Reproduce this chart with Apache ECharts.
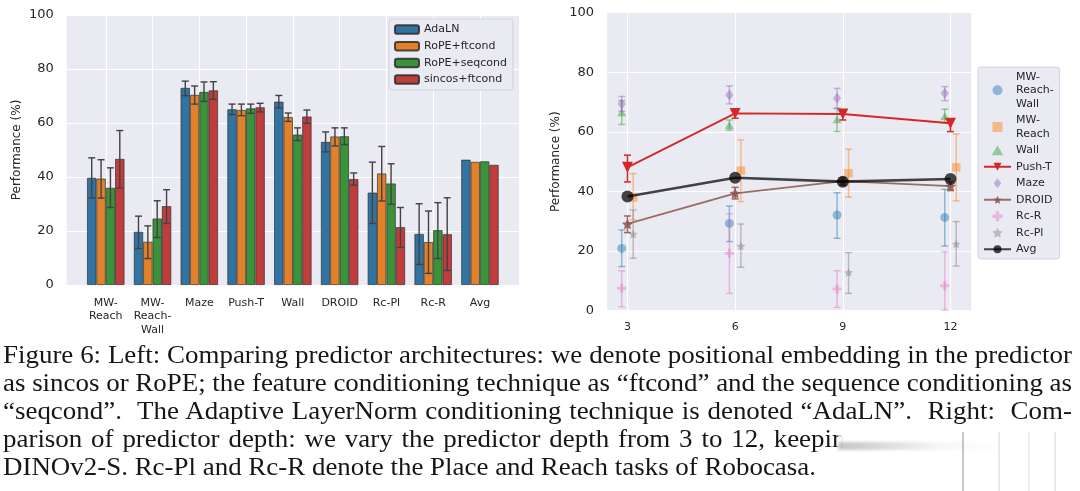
<!DOCTYPE html>
<html>
<head>
<meta charset="utf-8">
<title>Figure 6</title>
<script src="https://cdn.jsdelivr.net/npm/echarts@6.0.0/dist/echarts.min.js"></script>
<style>
  html, body { margin: 0; padding: 0; background: #fff; }
  body { width: 1080px; height: 491px; position: relative; overflow: hidden; }
  #chart { position: absolute; left: 0; top: 0; width: 1080px; height: 345px; }
  #caption {
    position: absolute; left: 3px; top: 340.5px; width: 1077px;
    font-family: 'Liberation Serif', 'Times New Roman', serif;
    font-size: 26px; line-height: 28.1px; color: #161616;
    transform-origin: 0 0;
  }
  #caption div { white-space: nowrap; }
  .wm { position: absolute; left: 838px; top: 432px; width: 242px; height: 59px;
        background: linear-gradient(to right, rgba(255,255,255,0.6) 0, #fff 5px); }
  .wm .streak { position: absolute; left: 0; top: 10px; width: 170px; height: 8px;
        background: linear-gradient(to right, rgba(150,150,150,0.55), rgba(200,200,200,0.15) 60%, rgba(255,255,255,0)); filter: blur(1.5px); }
  .wm .vl { position: absolute; top: 0; bottom: 0; width: 2px; background: rgba(130,130,130,0.45); filter: blur(0.6px); }
</style>
</head>
<body>
<div id="chart"></div>
<div id="caption">
  <div class="fit"><span>Figure 6: Left: Comparing predictor architectures: we denote positional embedding in the predictor</span></div>
  <div class="fit"><span>as sincos or RoPE; the feature conditioning technique as “ftcond” and the sequence conditioning as</span></div>
  <div class="fit"><span>“seqcond”.&nbsp; The Adaptive LayerNorm conditioning technique is denoted “AdaLN”.&nbsp; Right:&nbsp; Com-</span></div>
  <div id="capL4"><span>parison of predictor depth: we vary the predictor depth from 3 to 12, keeping</span></div>
  <div id="capL5"><span>DINOv2-S. Rc-Pl and Rc-R denote the Place and Reach tasks of Robocasa.</span></div>
</div>
<div class="wm">
  <div class="streak"></div>
  <div class="vl" style="left:124px"></div>
  <div class="vl" style="left:160px;opacity:0.4"></div>
  <div class="vl" style="left:190px;opacity:0.3"></div>
  <div class="vl" style="left:216px;opacity:0.4"></div>
</div>
<script>
// left panel: predictor architectures
const barCategories = ['MW-\nReach', 'MW-\nReach-\nWall', 'Maze', 'Push-T', 'Wall', 'DROID', 'Rc-Pl', 'Rc-R', 'Avg']
const barNames = ['AdaLN', 'RoPE+ftcond', 'RoPE+seqcond', 'sincos+ftcond']
const barColors = ['#3274A1', '#E1812C', '#3A923A', '#C03D3E']

const adaLN = [39.7, 19.7, 73.0, 65.1, 67.9, 53.0, 34.2, 18.9, 46.4]
const adaLNLow = [32.2, 13.5, 70.1, 63.1, 65.6, 49.3, 22.8, 7.6, null]
const adaLNHigh = [47.1, 25.5, 75.5, 67.0, 70.2, 56.7, 45.5, 30.1, null]
const ropeFt = [39.4, 16.0, 70.4, 64.8, 62.2, 55.0, 41.3, 15.9, 45.6]
const ropeFtLow = [32.2, 9.8, 67.0, 62.7, 60.6, 51.5, 31.1, 4.3, null]
const ropeFtHigh = [46.4, 21.9, 73.7, 67.0, 63.7, 58.2, 51.3, 27.4, null]
const ropeSeq = [36.0, 24.6, 71.5, 65.4, 55.7, 55.1, 37.6, 20.3, 45.8]
const ropeSeqLow = [28.7, 17.6, 68.0, 63.6, 53.5, 52.0, 29.9, 9.8, null]
const ropeSeqHigh = [43.4, 31.2, 75.2, 67.0, 58.2, 58.2, 44.9, 30.5, null]
const sincosFt = [46.7, 29.2, 72.1, 65.8, 62.4, 39.2, 21.4, 18.8, 44.5]
const sincosFtLow = [35.9, 22.8, 68.8, 64.1, 59.9, 37.0, 13.9, 5.4, null]
const sincosFtHigh = [57.2, 35.3, 75.3, 67.3, 64.8, 41.5, 28.7, 32.3, null]

// right panel: predictor depth
const depths = [3, 6, 9, 12]
const reachWall = [20.9, 29.3, 32.1, 31.3]
const reachWallLow = [14.8, 23.2, 24.3, 21.7]
const reachWallHigh = [27.1, 35.1, 39.6, 40.7]
const reach = [38.0, 47.0, 46.1, 48.1]
const reachLow = [30.5, 36.6, 38.1, 36.9]
const reachHigh = [46.0, 57.3, 54.2, 59.3]
const wall = [66.6, 62.3, 64.2, 65.3]
const wallLow = [62.5, 60.6, 60.1, 63.1]
const wallHigh = [70.5, 64.0, 67.9, 67.6]
const pushT = [48.1, 66.2, 66.0, 62.9]
const pushTLow = [43.2, 64.6, 64.0, 60.1]
const pushTHigh = [52.2, 67.3, 67.3, 64.2]
const maze = [69.4, 72.4, 71.3, 73.0]
const mazeLow = [66.9, 69.4, 67.9, 70.5]
const mazeHigh = [71.9, 75.4, 74.6, 75.2]
const droid = [29.1, 39.4, 43.5, 41.8]
const droidLow = [26.2, 37.5, 42.1, 40.3]
const droidHigh = [31.8, 41.4, 44.6, 43.3]
const rcR = [7.5, 19.3, 7.3, 8.4]
const rcRLow = [1.3, 5.8, 1.1, 0.2]
const rcRHigh = [13.4, 32.5, 13.4, 19.8]
const rcPl = [25.7, 21.7, 12.8, 22.4]
const rcPlLow = [17.6, 14.6, 5.8, 15.0]
const rcPlHigh = [33.8, 29.1, 19.5, 29.9]
const avg = [38.3, 44.6, 43.3, 44.2]

const textColor = '#262626'
const font = 'DejaVu Sans'

const squarePath = 'path://M-5,-5H5V5H-5Z'
const trianglePath = 'path://M0,-10L8.66,5H-8.66Z'
const diamondPath = 'path://M0,-10L7.5,0L0,10L-7.5,0Z'
const starPath = 'path://M0,-10L2.9,-4L9.5,-3.1L4.7,1.5L5.9,8.1L0,5L-5.9,8.1L-4.7,1.5L-9.5,-3.1L-2.9,-4Z'
const plusPath = 'path://M-3,-9H3V-3H9V3H3V9H-3V3H-9V-3H-3Z'

// name, values, low, high, dodge, symbol, size, color, line
const depthSeries = [
  ['MW-Reach-Wall', reachWall, reachWallLow, reachWallHigh, -0.16, 'circle', 9, 'rgba(31,119,180,0.45)', null],
  ['MW-Reach', reach, reachLow, reachHigh, 0.16, squarePath, 8.5, 'rgba(255,127,14,0.45)', null],
  ['Wall', wall, wallLow, wallHigh, -0.16, trianglePath, 9, 'rgba(44,160,44,0.45)', null],
  ['Push-T', pushT, pushTLow, pushTHigh, 0, 'triangle', 11, '#d62728', 1.8],
  ['Maze', maze, mazeLow, mazeHigh, -0.16, diamondPath, 11, 'rgba(148,103,189,0.45)', null],
  ['DROID', droid, droidLow, droidHigh, 0, starPath, 11, 'rgba(140,86,75,0.85)', 1.8],
  ['Rc-R', rcR, rcRLow, rcRHigh, -0.16, plusPath, 9, 'rgba(227,119,194,0.45)', null],
  ['Rc-Pl', rcPl, rcPlLow, rcPlHigh, 0.16, starPath, 9, 'rgba(127,127,127,0.45)', null],
  ['Avg', avg, null, null, 0, 'circle', 12, 'rgba(0,0,0,0.72)', 2.6]
]
const legendLabels = { 'MW-Reach-Wall': 'MW-\nReach-\nWall', 'MW-Reach': 'MW-\nReach' }

function errorBarItem (color, capHalf, width) {
  return function (params, api) {
    const x = api.value(0)
    const top = api.coord([x, api.value(2)])
    const bot = api.coord([x, api.value(1)])
    const style = { stroke: color, lineWidth: width }
    return {
      type: 'group',
      children: [
        { type: 'line', shape: { x1: top[0], y1: top[1], x2: bot[0], y2: bot[1] }, style },
        { type: 'line', shape: { x1: top[0] - capHalf, y1: top[1], x2: top[0] + capHalf, y2: top[1] }, style },
        { type: 'line', shape: { x1: bot[0] - capHalf, y1: bot[1], x2: bot[0] + capHalf, y2: bot[1] }, style }
      ]
    }
  }
}

function valueAxis (gridIndex, nameGap) {
  return {
    type: 'value',
    gridIndex,
    min: 0,
    max: 100,
    interval: 20,
    axisLine: { show: false },
    axisTick: { show: false },
    axisLabel: { color: textColor, fontSize: 13, margin: 13, fontFamily: font },
    splitLine: { show: true, lineStyle: { color: '#ffffff', width: 1.1 } },
    name: 'Performance (%)',
    nameLocation: 'middle',
    nameGap,
    nameTextStyle: { color: textColor, fontSize: 12, fontFamily: font }
  }
}

const barData = [adaLN, ropeFt, ropeSeq, sincosFt]
const barLow = [adaLNLow, ropeFtLow, ropeSeqLow, sincosFtLow]
const barHigh = [adaLNHigh, ropeFtHigh, ropeSeqHigh, sincosFtHigh]
const barOffsets = [-0.3, -0.1, 0.1, 0.3]

const series = []
barNames.forEach((name, k) => {
  series.push({
    name,
    type: 'bar',
    xAxisIndex: 0,
    yAxisIndex: 0,
    barWidth: '20%',
    barGap: '0%',
    itemStyle: { color: barColors[k], borderColor: 'rgba(45,45,45,0.85)', borderWidth: 0.8 },
    data: barData[k].map((v, i) => [i, v]),
    z: 2
  })
})
barNames.forEach((name, k) => {
  series.push({
    name: 'err ' + name,
    type: 'custom',
    xAxisIndex: 0,
    yAxisIndex: 0,
    renderItem: errorBarItem('#424242', 3.5, 1.4),
    encode: { x: 0, y: [1, 2] },
    data: barLow[k].map((lo, i) => [i + barOffsets[k], lo, barHigh[k][i]]).filter(d => d[1] != null),
    z: 3
  })
})

depthSeries.forEach(([name, vals, low, high, dodge, symbol, size, color, line], k) => {
  if (low) {
    series.push({
      name: 'err ' + name,
      type: 'custom',
      xAxisIndex: 1,
      yAxisIndex: 1,
      renderItem: errorBarItem(color, 3.5, 1.5),
      encode: { x: 0, y: [1, 2] },
      data: depths.map((d, i) => [d + dodge, low[i], high[i]]),
      z: 10 + k * 2
    })
  }
  series.push({
    name,
    type: line ? 'line' : 'scatter',
    xAxisIndex: 1,
    yAxisIndex: 1,
    symbol,
    symbolSize: size,
    symbolKeepAspect: true,
    symbolRotate: name === 'Push-T' ? 180 : 0,
    itemStyle: { color, opacity: 1 },
    lineStyle: line ? { color, width: line } : undefined,
    data: depths.map((d, i) => [d + dodge, vals[i]]),
    z: 11 + k * 2
  })
})

const chart = echarts.init(document.getElementById('chart'), null, { renderer: 'canvas' })
chart.setOption({
  animation: false,
  textStyle: { fontFamily: font },
  grid: [
    { left: 66.7, top: 15, width: 452.3, height: 270, show: true, backgroundColor: '#EAEAF2', borderWidth: 0 },
    { left: 607, top: 12.7, width: 364.3, height: 298, show: true, backgroundColor: '#EAEAF2', borderWidth: 0 }
  ],
  xAxis: [
    {
      type: 'value',
      gridIndex: 0,
      min: -0.835,
      max: 8.835,
      axisLine: { show: false },
      axisTick: { show: false, customValues: barCategories.map((c, i) => i) },
      axisLabel: {
        customValues: barCategories.map((c, i) => i),
        formatter: v => barCategories[Math.round(v)],
        color: textColor, fontSize: 11, lineHeight: 13.5, margin: 11, fontFamily: font,
        verticalAlign: 'top'
      },
      splitLine: { show: true, lineStyle: { color: '#ffffff', width: 1.1 } }
    },
    {
      type: 'value',
      gridIndex: 1,
      min: 2.43,
      max: 12.58,
      axisLine: { show: false },
      axisTick: { show: false, customValues: depths },
      axisLabel: { customValues: depths, color: textColor, fontSize: 11, margin: 11, fontFamily: font },
      splitLine: { show: true, lineStyle: { color: '#ffffff', width: 1.1 } }
    }
  ],
  yAxis: [valueAxis(0, 44), valueAxis(1, 45)],
  legend: [
    {
      data: barNames,
      orient: 'vertical',
      left: 389,
      top: 19,
      padding: [4, 6, 4, 5],
      itemGap: 3.7,
      itemWidth: 24,
      itemHeight: 8.5,
      textStyle: { color: textColor, fontSize: 11, lineHeight: 13, fontFamily: font },
      backgroundColor: '#EAEAF2',
      borderColor: '#d2d2da',
      borderWidth: 1,
      borderRadius: 3
    },
    {
      data: depthSeries.map(s => s[0]),
      orient: 'vertical',
      left: 978,
      top: 67,
      padding: [3, 6, 3, 5],
      itemGap: 3,
      itemWidth: 27,
      itemHeight: 10,
      symbolKeepAspect: true,
      formatter: name => legendLabels[name] || name,
      textStyle: { color: textColor, fontSize: 11, lineHeight: 13.5, fontFamily: font },
      backgroundColor: '#EAEAF2',
      borderColor: '#d2d2da',
      borderWidth: 1,
      borderRadius: 3
    }
  ],
  series
})

// caption: the scanned serif is a little wider than Liberation Serif, so stretch it to the
// length of the last (unjustified) line, then set word gaps so the justified lines end flush
const cap = document.getElementById('caption')
const stretch = 813 / document.querySelector('#capL5 span').getBoundingClientRect().width
function fitLine (span, width) {
  const gaps = span.textContent.split(/[ \u00a0]/).length - 1
  span.style.wordSpacing = ((width / stretch - span.getBoundingClientRect().width) / gaps).toFixed(2) + 'px'
}
document.querySelectorAll('#caption .fit span').forEach(span => fitLine(span, 1069))
fitLine(document.querySelector('#capL4 span'), 856)
cap.style.transform = 'scaleX(' + stretch.toFixed(4) + ')'
</script>
</body>
</html>
